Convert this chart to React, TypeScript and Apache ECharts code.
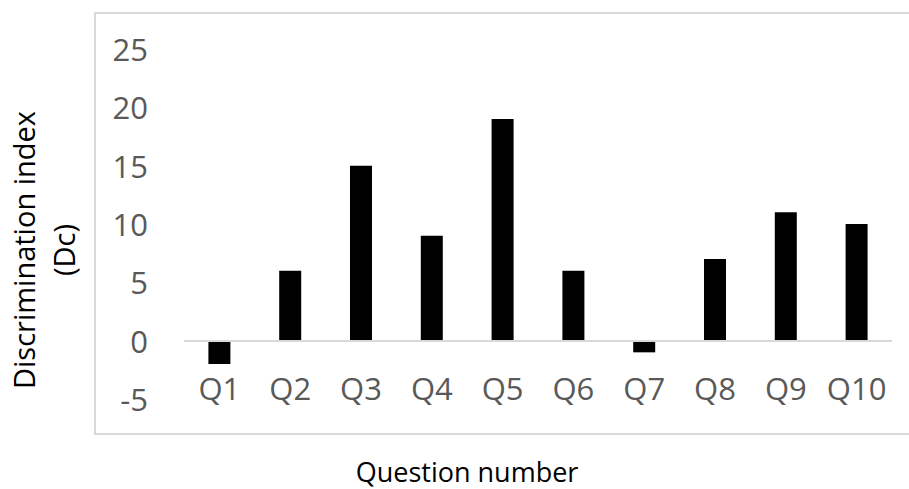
import React, { useEffect, useRef } from "react";
import * as echarts from "echarts";

const categories = ["Q1", "Q2", "Q3", "Q4", "Q5", "Q6", "Q7", "Q8", "Q9", "Q10"];
const values = [-2, 6, 15, 9, 19, 6, -1, 7, 11, 10];
const yMin = -5;
const yMax = 25;
const yInterval = 5;
const yTitle = "Discrimination index\n(Dc)";
const xTitle = "Question number";

const FONT = "'Open Sans', sans-serif";

export default function App() {
  const ref = useRef<HTMLDivElement>(null);
  useEffect(() => {
    document.body.style.margin = "0";
    const chart = echarts.init(ref.current!, null, { renderer: "svg" });
    chart.setOption({
      animation: false,
      backgroundColor: "#ffffff",
      grid: { left: 184, right: 17, top: 49, bottom: 90, containLabel: false },
      xAxis: {
        type: "category",
        data: categories,
        axisLine: { show: false },
        axisTick: { show: false },
        axisLabel: {
          interval: 0,
          color: "#595959",
          fontFamily: FONT,
          fontSize: 31,
          margin: -11,
          verticalAlign: "middle",
        },
      },
      yAxis: {
        type: "value",
        min: yMin,
        max: yMax,
        interval: yInterval,
        axisLine: { show: false },
        axisTick: { show: false },
        splitLine: { show: false },
        axisLabel: {
          color: "#595959",
          fontFamily: FONT,
          fontSize: 31,
          margin: 36,
        },
      },
      graphic: [
        {
          type: "rect",
          shape: { x: 95, y: 13, width: 830, height: 421 },
          style: { fill: "none", stroke: "#d9d9d9", lineWidth: 2 },
          silent: true,
        },
        {
          type: "text",
          x: 43,
          y: 250,
          rotation: Math.PI / 2,
          style: {
            text: yTitle,
            font: `29px ${FONT}`,
            fill: "#000000",
            align: "center",
            verticalAlign: "middle",
            lineHeight: 40,
          },
        },
        {
          type: "text",
          x: 467,
          y: 471,
          style: {
            text: xTitle,
            font: `27px ${FONT}`,
            fill: "#000000",
            align: "center",
            verticalAlign: "middle",
            lineHeight: 27,
          },
        },
      ],
      series: [
        {
          type: "bar",
          data: values,
          barWidth: 22,
          itemStyle: { color: "#000000" },
          markLine: {
            silent: true,
            symbol: "none",
            label: { show: false },
            lineStyle: { color: "#d9d9d9", width: 2, type: "solid" },
            data: [{ yAxis: 0 }],
          },
        },
      ],
    });
    return () => chart.dispose();
  }, []);
  return <div ref={ref} style={{ width: 909, height: 489 }} />;
}
